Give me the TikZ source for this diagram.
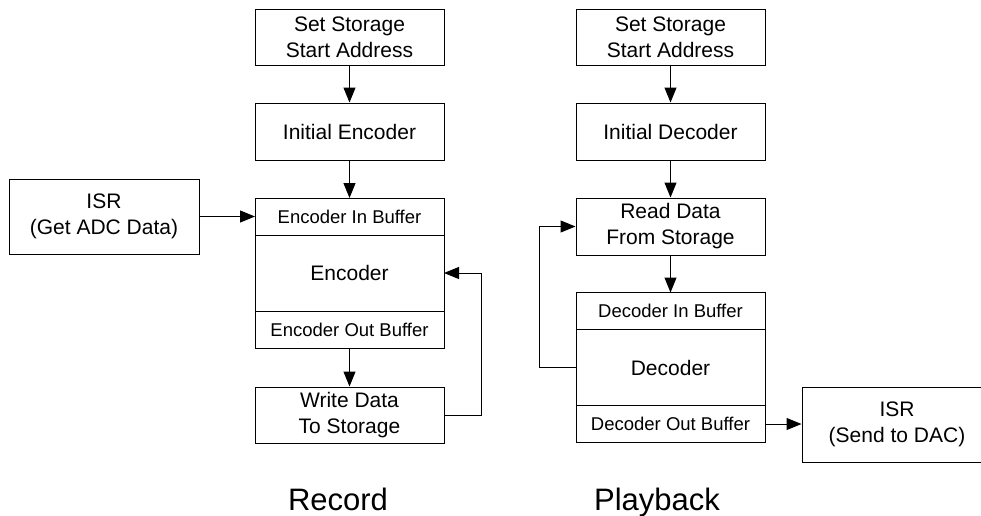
\documentclass[tikz,border=0pt]{standalone}
\usepackage{fontspec}
\setmainfont{Liberation Sans}
\usetikzlibrary{arrows.meta,positioning}
\definecolor{ink}{RGB}{0,0,0}
\tikzset{
  box/.style={draw=ink,fill=white,line width=1pt,align=center,minimum width=189pt,
    inner sep=2pt,font=\fontsize{21}{26}\selectfont},
  % stacked codec parts share their borders
  part/.style={box,outer sep=0pt,minimum height=#1},
  part/.default=37pt,
  buf/.style={part,font=\fontsize{18.5}{22}\selectfont},
  flow/.style={-{Triangle[length=15pt,width=12pt]},line width=1pt,draw=ink},
  title/.style={font=\fontsize{31}{36}\selectfont,anchor=base},
}

\begin{document}
\begin{tikzpicture}[x=1pt,y=-1pt]
  \useasboundingbox (0,0) rectangle (981,515);

  % record side
  \node[box,minimum height=56pt] (lset) at (349.5,37) {Set Storage\\Start Address};
  \node[box,minimum height=57pt] (linit) at (349.5,131.5) {Initial Encoder};
  \node[buf] (encin) at (349.5,216.5) {Encoder In Buffer};
  \node[part=76pt,below=0pt of encin] (enc) {Encoder};
  \node[buf,below=0pt of enc] (encout) {Encoder Out Buffer};
  \node[box,minimum height=56pt] (lwrite) at (349.5,415) {Write Data\\To Storage};
  \node[box,minimum width=190pt,minimum height=75pt] (isradc) at (104,216.5) {ISR\\(Get ADC Data)};

  \draw[flow] (lset) -- (linit);
  \draw[flow] (linit) -- (encin);
  \draw[flow] (isradc) -- (encin);
  \draw[flow] (encout) -- (lwrite);
  \draw[flow] (lwrite.east) -- ++(37,0) |- (enc.east);

  % playback side
  \node[box,minimum height=56pt] (rset) at (670.5,37) {Set Storage\\Start Address};
  \node[box,minimum height=57pt] (rinit) at (670.5,131.5) {Initial Decoder};
  \node[box,minimum height=57pt] (rread) at (670.5,226.5) {Read Data\\From Storage};
  \node[buf] (decin) at (670.5,311) {Decoder In Buffer};
  \node[part=76pt,below=0pt of decin] (dec) {Decoder};
  \node[buf,below=0pt of dec] (decout) {Decoder Out Buffer};
  \node[box,minimum width=190pt,minimum height=75pt] (isrdac) at (897,424.5) {ISR\\(Send to DAC)};

  \draw[flow] (rset) -- (rinit);
  \draw[flow] (rinit) -- (rread);
  \draw[flow] (rread) -- (decin);
  \draw[flow] (dec.west) -- ++(-37,0) |- (rread.west);
  \draw[flow] (decout.east) -- (isrdac.west |- decout.east);

  % captions
  \node[title] (rec) at (338,510) {Record};
  \node[title] (play) at (657,510) {Playback};
\end{tikzpicture}
\end{document}
